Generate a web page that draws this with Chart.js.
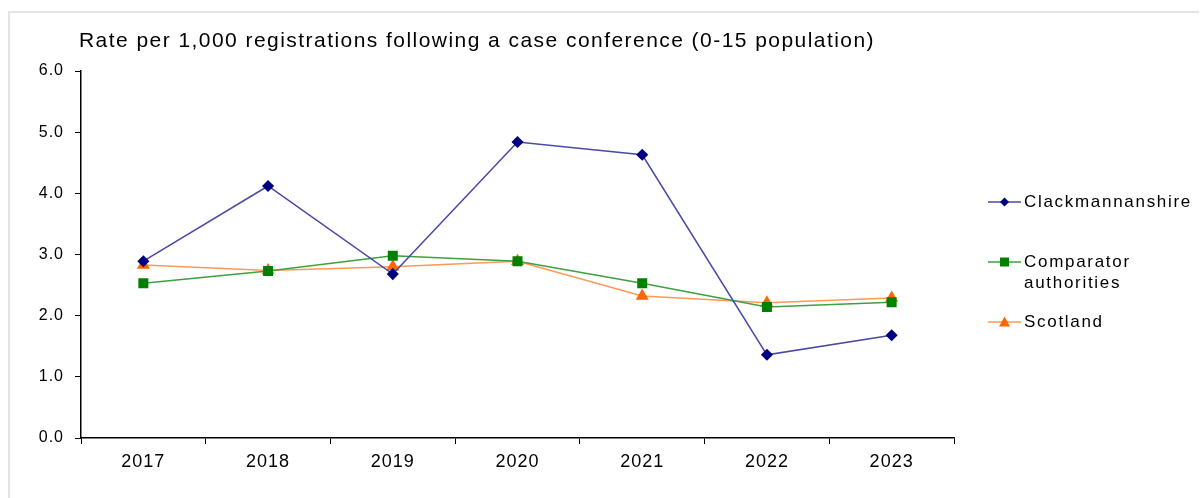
<!DOCTYPE html>
<html>
<head>
<meta charset="utf-8">
<title>Registrations following a case conference</title>
<script src="https://cdn.jsdelivr.net/npm/chart.js@4/dist/chart.umd.min.js"></script>
<style>
  html, body { margin: 0; padding: 0; background: #fff; }
  #wrap { position: relative; width: 1200px; height: 498px; }
</style>
</head>
<body>
<div id="wrap"><canvas id="rateChart"></canvas></div>
<script>
const years = ['2017', '2018', '2019', '2020', '2021', '2022', '2023'];
const clackmannanshire = [2.89, 4.12, 2.68, 4.84, 4.63, 1.36, 1.68];
const comparator = [2.53, 2.73, 2.98, 2.89, 2.53, 2.14, 2.22];
const scotland = [2.83, 2.74, 2.80, 2.89, 2.32, 2.21, 2.29];
const yTicks = [0, 1, 2, 3, 4, 5, 6];

const chartTitle = 'Rate per 1,000 registrations following a case conference (0-15 population)';
const FONT = '"Liberation Sans", Arial, sans-serif';

// frame, title and the legend on the right
const decorations = {
  id: 'decorations',
  beforeDraw(chart) {
    const ctx = chart.ctx;
    ctx.save();
    ctx.fillStyle = '#fff';
    ctx.fillRect(0, 0, chart.width, chart.height);
    ctx.strokeStyle = '#dcdcdc';
    ctx.lineWidth = 1.5;
    ctx.beginPath();
    ctx.moveTo(9, chart.height);
    ctx.lineTo(9, 12);
    ctx.lineTo(chart.width - 1, 12);
    ctx.stroke();
    ctx.restore();
    // wider tracking for the axis labels
    ctx.letterSpacing = '1px';
  },
  afterDraw(chart) {
    const ctx = chart.ctx;
    ctx.save();
    ctx.fillStyle = '#000';
    ctx.textAlign = 'left';
    ctx.textBaseline = 'middle';
    ctx.font = '21px ' + FONT;
    ctx.letterSpacing = '1.45px';
    ctx.fillText(chartTitle, 79, 41);

    ctx.font = '17px ' + FONT;
    ctx.letterSpacing = '1.7px';
    const rows = [
      { ds: 0, y: 202, lines: ['Clackmannanshire'] },
      { ds: 1, y: 262, lines: ['Comparator', 'authorities'] },
      { ds: 2, y: 322, lines: ['Scotland'] }
    ];
    rows.forEach(r => {
      const ds = chart.data.datasets[r.ds];
      ctx.strokeStyle = ds.borderColor;
      ctx.lineWidth = 1.5;
      ctx.beginPath();
      ctx.moveTo(988, r.y);
      ctx.lineTo(1021, r.y);
      ctx.stroke();
      ctx.fillStyle = ds.pointBackgroundColor;
      drawMarker(ctx, ds.pointStyle, 1004.5, r.y, 4.5);
      ctx.fillStyle = '#000';
      r.lines.forEach((t, i) => ctx.fillText(t, 1024, r.y + i * 21));
    });
    ctx.restore();
    ctx.letterSpacing = '0px';
  }
};

function drawMarker(ctx, style, x, y, r) {
  ctx.beginPath();
  if (style === 'rectRot') {
    ctx.moveTo(x, y - r); ctx.lineTo(x + r, y); ctx.lineTo(x, y + r); ctx.lineTo(x - r, y);
  } else if (style === 'rect') {
    ctx.rect(x - r, y - r, r * 2, r * 2);
  } else {
    ctx.moveTo(x, y - r - 1); ctx.lineTo(x + r + 1, y + r); ctx.lineTo(x - r - 1, y + r);
  }
  ctx.closePath();
  ctx.fill();
}

const data = {
  labels: years,
  datasets: [
    {
      label: 'Clackmannanshire',
      data: clackmannanshire,
      borderColor: '#4a4aa6',
      pointBackgroundColor: '#000080',
      pointBorderColor: '#000080',
      pointStyle: 'rectRot',
      pointRadius: 5,
      borderWidth: 1.5
    },
    {
      label: 'Comparator authorities',
      data: comparator,
      borderColor: '#3fa03f',
      pointBackgroundColor: '#008000',
      pointBorderColor: '#008000',
      pointStyle: 'rect',
      pointRadius: 6,
      borderWidth: 1.5
    },
    {
      label: 'Scotland',
      data: scotland,
      borderColor: '#ff9a55',
      pointBackgroundColor: '#ff6600',
      pointBorderColor: '#ff6600',
      pointStyle: 'triangle',
      pointRadius: 6,
      borderWidth: 1.5
    }
  ]
};

const config = {
  type: 'line',
  data: data,
  options: {
    responsive: true,
    maintainAspectRatio: false,
    animation: false,
    layout: {
      padding: { top: 71, right: 246, left: 0, bottom: 0 }
    },
    plugins: {
      legend: { display: false },
      tooltip: { enabled: false },
      title: { display: false }
    },
    elements: {
      line: { tension: 0 },
      point: { borderWidth: 1 }
    },
    scales: {
      x: {
        offset: true,
        grid: {
          offset: true,
          drawOnChartArea: false,
          drawTicks: true,
          tickLength: 6,
          color: '#000'
        },
        border: { display: true, color: '#000', width: 1.5 },
        ticks: {
          color: '#000',
          padding: 7,
          maxRotation: 0,
          font: { family: FONT, size: 18 }
        },
        afterFit(scale) { scale.height = 60; }
      },
      y: {
        min: 0,
        max: 6,
        afterBuildTicks(scale) {
          scale.ticks = yTicks.map(v => ({ value: v }));
        },
        grid: {
          drawOnChartArea: false,
          drawTicks: true,
          tickLength: 6,
          color: '#000'
        },
        border: { display: true, color: '#000', width: 1.5 },
        ticks: {
          color: '#000',
          padding: 11,
          font: { family: FONT, size: 16 },
          callback: v => v.toFixed(1)
        },
        afterFit(scale) { scale.width = 81; }
      }
    }
  },
  plugins: [decorations]
};

new Chart(document.getElementById('rateChart').getContext('2d'), config);
</script>
</body>
</html>
